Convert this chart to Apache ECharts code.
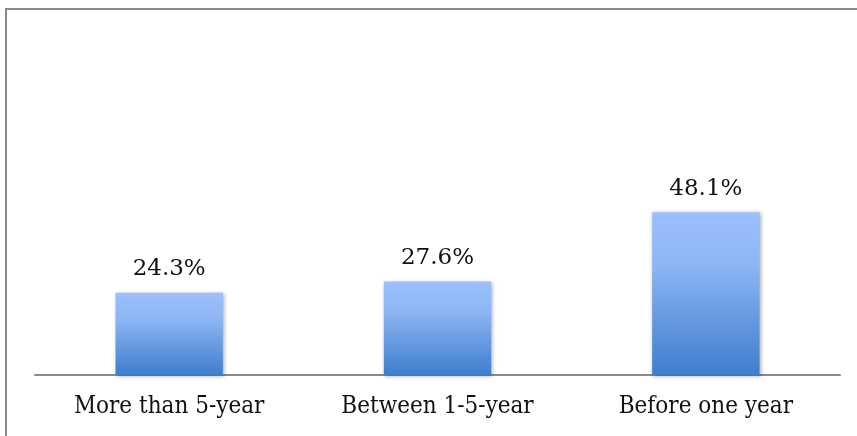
<!DOCTYPE html>
<html>
<head>
<meta charset="utf-8">
<script src="https://cdn.jsdelivr.net/npm/echarts@6/dist/echarts.min.js"></script>
<style>
  html, body { margin: 0; padding: 0; background: #fff; }
  #chart { width: 857px; height: 436px; }
</style>
</head>
<body>
<div id="chart"></div>
<script>
  // categories and shares (%)
  var categories = ['More than 5-year', 'Between 1-5-year', 'Before one year']
  var shares = [24.3, 27.6, 48.1]

  var chart = echarts.init(document.getElementById('chart'))
  var serifNarrow = '"DejaVu Serif Condensed", "DejaVu Serif", serif'
  var serif = '"DejaVu Serif", serif'

  var option = {
    animation: false,
    grid: {
      left: 35,
      right: 17,
      top: 172,
      bottom: 61,
      containLabel: false,
    },
    graphic: [
      {
        type: 'polyline',
        shape: { points: [[6, 436], [6, 9], [857, 9]] },
        style: { stroke: '#8a8a8a', lineWidth: 2, fill: null },
      },
    ],
    xAxis: {
      type: 'category',
      data: categories,
      axisTick: { show: false },
      axisLine: { lineStyle: { color: '#8a8a8a', width: 2 } },
      axisLabel: {
        color: '#111',
        fontFamily: serifNarrow,
        fontSize: 24,
        margin: 20,
      },
    },
    yAxis: {
      type: 'value',
      min: 0,
      max: 60,
      show: false,
    },
    series: [
      {
        type: 'bar',
        data: shares,
        barWidth: '40%',
        itemStyle: {
          color: new echarts.graphic.LinearGradient(0, 0, 0, 1, [
            { offset: 0, color: '#9ac0fd' },
            { offset: 0.3, color: '#8fb7f5' },
            { offset: 1, color: '#3e7ecd' },
          ]),
          shadowColor: 'rgba(0,0,0,0.35)',
          shadowBlur: 4,
          shadowOffsetX: 1,
          shadowOffsetY: 1,
        },
        label: {
          show: true,
          position: 'top',
          distance: 12,
          color: '#111',
          fontFamily: serif,
          fontSize: 23,
          formatter: function (p) {
            return p.value.toFixed(1) + '%'
          },
        },
      },
    ],
  }

  chart.setOption(option)
</script>
</body>
</html>
